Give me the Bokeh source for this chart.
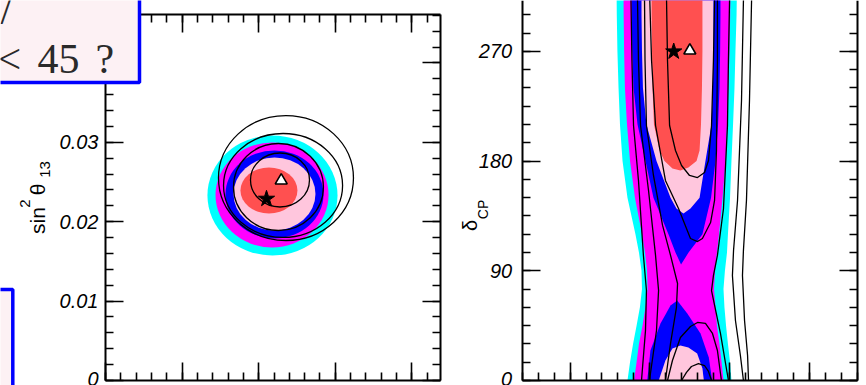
import numpy as np
from bokeh.plotting import figure
from bokeh.models import FixedTicker, LinearAxis, Range1d, BoxAnnotation, Label
from bokeh.embed import file_html
from bokeh.resources import INLINE

# ---------------- data: left panel (sin^2 theta13 vs theta23) ----------------
L_xticks = [35, 40, 45, 50, 55]
L_yticks = [0.0, 0.01, 0.02, 0.03, 0.04]
L_ylabels = ["0", "0.01", "0.02", "0.03", "0.04"]

# filled allowed regions, outer -> inner (centre, full width, full height)
L_fill_x = [45.90, 45.87, 46.03, 46.03, 45.67]
L_fill_y = [0.02330, 0.02336, 0.02343, 0.02349, 0.02393]
L_fill_w = [8.49, 7.38, 6.40, 5.35, 3.72]
L_fill_h = [0.01511, 0.01322, 0.01108, 0.00919, 0.00579]

# black contour loops
L_loop_x = [46.39, 46.29, 46.59, 46.78]
L_loop_y = [0.02525, 0.02437, 0.02456, 0.02550]
L_loop_w = [3.85, 5.87, 7.77, 8.81]
L_loop_h = [0.00680, 0.01096, 0.01310, 0.01574]

L_star = (45.51, 0.02288)
L_tri = (46.47, 0.02519)

# ---------------- data: right panel (delta_CP vs theta23) ----------------
R_xticks = [40, 45, 50, 55]
R_yticks = [0, 90, 180, 270, 360]

band_d = [330, 300, 270, 240, 210, 180, 150, 120, 105, 90, 75, 60, 45, 30, 15, 0]
cyan_l = [42.91, 42.93, 42.97, 43.04, 43.13, 43.29, 43.60, 44.10, 44.32, 44.48, 44.51, 44.38, 44.17, 43.95, 43.76, 43.60]
cyan_r = [50.47, 50.44, 50.37, 50.31, 50.22, 50.12, 50.03, 49.90, 49.84, 49.71, 49.62, 49.68, 49.78, 49.90, 50.03, 50.12]
mag_l = [43.35, 43.36, 43.39, 43.44, 43.57, 43.76, 44.07, 44.51, 44.70, 44.83, 44.86, 44.73, 44.54, 44.32, 44.17, 44.01]
mag_r = [50.06, 50.04, 50.00, 49.93, 49.84, 49.75, 49.56, 49.34, 49.21, 49.09, 49.03, 49.12, 49.21, 49.37, 49.50, 49.62]

blueU_d = [330, 300, 270, 240, 210, 180, 150, 120, 105]
blueU_l = [43.85, 43.87, 43.90, 43.98, 44.23, 44.73, 45.23, 46.17, 46.61]
blueU_r = [49.43, 49.43, 49.41, 49.37, 49.28, 49.12, 48.84, 48.30, 47.43]
blueU_tip = (46.96, 95.2)

pinkU_d = [330, 300, 270, 240, 210, 180, 150]
pinkU_l = [44.48, 44.48, 44.51, 44.57, 44.79, 45.42, 46.30]
pinkU_r = [48.99, 48.99, 48.99, 48.96, 48.87, 48.49, 48.12]
pinkU_bot_x = [46.67, 47.11, 47.55]
pinkU_bot_d = [141.1, 137.0, 141.1]

redU_x = [45.11, 45.11, 45.14, 45.17, 45.26, 45.61, 45.92, 46.42, 46.92, 47.42, 47.93, 48.12, 48.21, 48.27, 48.30, 48.30, 48.30]
redU_d = [330, 300, 270, 240, 210, 188.7, 180, 173.9, 172.3, 174.7, 180, 188.7, 210, 240, 270, 300, 330]

blueL_x = [44.84, 45.04, 45.67, 46.30, 46.72, 47.35, 48.18, 48.70, 48.91]
blueL_d = [0, 24.6, 46.8, 61.5, 65.6, 55.0, 38.6, 18.9, 0]
pinkL_x = [45.56, 45.98, 46.42, 46.92, 47.42, 47.97, 48.30, 48.39]
pinkL_d = [0, 16.4, 26.3, 28.7, 27.1, 22.2, 9.8, 0]

lines_x = [
    [43.82, 43.82, 43.88, 43.98, 44.29, 44.60, 44.79, 44.73, 44.48],
    [44.23, 44.23, 44.29, 44.42, 44.92, 45.36, 45.55, 45.42, 44.98],
    [44.67, 44.67, 44.70, 44.79, 45.23, 45.80, 46.30, 46.74, 46.67, 46.30, 45.98],
    [46.05, 46.05, 46.11, 46.24, 46.61, 46.99, 47.49, 47.99, 48.43, 48.68, 48.87, 48.99, 49.06, 49.06],
    [45.00, 45.00, 45.11, 45.36, 45.98, 46.80, 47.55, 47.99, 48.30, 48.81, 49.06, 49.18, 49.24, 49.24, 49.24],
    [50.00, 50.00, 49.93, 49.87, 49.62, 49.24, 48.99, 48.87, 49.43, 49.93],
    [50.87, 50.87, 50.75, 50.50, 50.25, 50.18, 50.37, 50.68, 50.87],
    [51.38, 51.38, 51.25, 51.06, 50.87, 50.81, 50.94, 51.13, 51.19],
    [46.11, 46.42, 46.92, 47.55, 47.99, 48.49, 48.93, 49.24, 49.49],
    [46.99, 47.30, 47.61, 48.05, 48.43, 48.68, 48.87],
]
lines_d = [
    [330, 311.8, 262.5, 209.2, 164.1, 102.6, 73.8, 41.0, 0],
    [330, 311.8, 262.5, 209.2, 155.9, 102.6, 73.8, 41.0, 0],
    [330, 311.8, 262.5, 209.2, 168.2, 127.2, 102.6, 79.6, 59.9, 30.4, 0],
    [330, 311.8, 262.5, 209.2, 188.7, 176.4, 168.2, 166.5, 170.6, 180.5, 209.2, 262.5, 311.8, 330],
    [330, 311.8, 262.5, 209.2, 164.1, 141.1, 116.5, 114.0, 116.5, 129.6, 147.7, 188.7, 262.5, 311.8, 330],
    [330, 311.8, 262.5, 209.2, 141.1, 102.6, 86.1, 73.8, 38.6, 0],
    [330, 311.8, 229.7, 147.7, 106.7, 86.1, 49.2, 20.5, 0],
    [330, 311.8, 229.7, 147.7, 106.7, 86.1, 49.2, 20.5, 0],
    [0, 16.4, 35.3, 44.3, 47.6, 46.8, 38.6, 24.6, 0],
    [0, 6.6, 11.5, 13.9, 12.3, 7.4, 0],
]

R_star = (46.50, 269.9)
R_tri = (47.51, 270.7)

# ---------------- style ----------------
C_CYAN, C_MAG, C_BLUE, C_PINK, C_RED = "#00ffff", "#ff00ff", "#0000ff", "#ffc6dd", "#ff5050"
fill_colors = [C_CYAN, C_MAG, C_BLUE, C_PINK, C_RED]
TICK_FONT = "Liberation Sans"
W, H = 866, 385

# ---------------- panel geometry (pixel placement of the two frames) ----------------
L_pxdeg, L_pxunit = 15.32, 7940.0
R_pxdeg, R_pxdeg_y = 15.95, 0.8204

def Lx(px): return 35 + (px - 105) / L_pxdeg
def Ly(py): return (380 - py) / L_pxunit
def Rx(px): return 37 + (px - 521.7) / R_pxdeg
def Ry(py): return (380 - py) * R_pxdeg_y

p = figure(width=W, height=H, x_range=Range1d(0, W), y_range=Range1d(H, 0),
           min_border=0, x_axis_location=None, y_axis_location=None, title=None,
           output_backend="svg", toolbar_location=None)
p.outline_line_color = None
p.background_fill_color = "white"
p.border_fill_color = "white"
p.grid.visible = False
p.extra_x_ranges = {"Lx": Range1d(Lx(0), Lx(W)), "Rx": Range1d(Rx(0), Rx(W))}
p.extra_y_ranges = {"Ly": Range1d(Ly(H), Ly(0)), "Ry": Range1d(Ry(H), Ry(0))}


def add_axis(side, xr, yr, loc, bounds, ticks, minor, labels=None, show=True, standoff=8):
    ax = LinearAxis(x_range_name=xr, y_range_name=yr, fixed_location=loc, bounds=bounds)
    ax.ticker = FixedTicker(ticks=ticks, minor_ticks=minor)
    ax.axis_line_width = 2
    ax.axis_line_color = "black"
    ax.major_tick_in = 18
    ax.major_tick_out = 0
    ax.minor_tick_in = 8
    ax.minor_tick_out = 0
    ax.major_tick_line_width = 1.6
    ax.minor_tick_line_width = 1.6
    ax.major_tick_line_color = "black"
    ax.minor_tick_line_color = "black"
    ax.major_label_standoff = standoff
    ax.major_label_text_font = TICK_FONT
    ax.major_label_text_font_style = "italic"
    ax.major_label_text_font_size = "20px"
    ax.major_label_text_color = "black"
    if show and labels is not None:
        ax.major_label_overrides = dict(zip(ticks, labels))
    elif not show:
        ax.major_label_overrides = {t: "" for t in ticks}
        ax.major_label_standoff = 0
    p.add_layout(ax, side)
    return ax

# left panel axes
LX0, LX1, LY0, LY1 = Lx(105), Lx(440), Ly(380), Ly(14)
lx_minor = [round(v, 3) for v in np.arange(35, LX1 + 0.01, 1.0)]
ly_minor = [round(v, 4) for v in np.arange(0, LY1 + 0.0001, 0.002)]
add_axis("left", "Lx", "Ly", LX0, (LY0, LY1), L_yticks, ly_minor, L_ylabels, True, 7)
add_axis("right", "Lx", "Ly", LX1, (LY0, LY1), L_yticks, ly_minor, None, False)
add_axis("above", "Lx", "Ly", LY1, (LX0, LX1), L_xticks, lx_minor, None, False)
add_axis("below", "Lx", "Ly", LY0, (LX0, LX1), L_xticks, lx_minor, None, False)

# right panel axes
RX0, RX1, RY0 = Rx(521.7), Rx(856.7), 0.0
rx_minor = [round(v, 3) for v in np.arange(37, RX1 + 0.01, 1.0)]
ry_minor = [float(v) for v in np.arange(0, 361, 15)]
add_axis("left", "Rx", "Ry", RX0, (0, 400), R_yticks, ry_minor, [str(t) for t in R_yticks], True, 10)
add_axis("right", "Rx", "Ry", RX1, (0, 400), R_yticks, ry_minor, None, False)
add_axis("below", "Rx", "Ry", RY0, (RX0, RX1), R_xticks, rx_minor, None, False)

# ---------------- left panel content ----------------
p.ellipse(x=L_fill_x, y=L_fill_y, width=L_fill_w, height=L_fill_h,
          fill_color=fill_colors, line_color=None, x_range_name="Lx", y_range_name="Ly")
p.ellipse(x=L_loop_x, y=L_loop_y, width=L_loop_w, height=L_loop_h,
          fill_color=None, line_color="black", line_width=1.3, x_range_name="Lx", y_range_name="Ly")
p.scatter([L_star[0]], [L_star[1]], marker="star", size=17, color="black",
          x_range_name="Lx", y_range_name="Ly")
p.scatter([L_tri[0]], [L_tri[1]], marker="triangle", size=12, fill_color="white",
          line_color="black", line_width=1.6, x_range_name="Lx", y_range_name="Ly")

# ---------------- right panel content ----------------
cyan_xs = cyan_l + cyan_r[::-1]
cyan_ys = band_d + band_d[::-1]
mag_xs = mag_l + mag_r[::-1]
mag_ys = band_d + band_d[::-1]
blueU_xs = blueU_l + [blueU_tip[0]] + blueU_r[::-1]
blueU_ys = blueU_d + [blueU_tip[1]] + blueU_d[::-1]
pinkU_xs = pinkU_l + pinkU_bot_x + pinkU_r[::-1]
pinkU_ys = pinkU_d + pinkU_bot_d + pinkU_d[::-1]

R = dict(x_range_name="Rx", y_range_name="Ry")
p.patch(cyan_xs, cyan_ys, fill_color=C_CYAN, line_color=None, **R)
p.patch(mag_xs, mag_ys, fill_color=C_MAG, line_color=None, **R)
p.patch(blueU_xs, blueU_ys, fill_color=C_BLUE, line_color=None, **R)
p.patch(blueL_x, blueL_d, fill_color=C_BLUE, line_color=None, **R)
p.patch(pinkU_xs, pinkU_ys, fill_color=C_PINK, line_color=None, **R)
p.patch(pinkL_x, pinkL_d, fill_color=C_PINK, line_color=None, **R)
p.patch(redU_x, redU_d, fill_color=C_RED, line_color=None, **R)
p.multi_line(lines_x, lines_d, line_color="black", line_width=1.3, **R)
p.scatter([R_star[0]], [R_star[1]], marker="star", size=17, color="black", **R)
p.scatter([R_tri[0]], [R_tri[1]], marker="triangle", size=12, fill_color="white",
          line_color="black", line_width=1.6, **R)

# ---------------- texts and the boxes of the neighbouring panel ----------------
def rot_label(txt, cx, cy, fs):
    p.add_layout(Label(x=cx, y=cy, text=txt, text_font="Liberation Sans", text_font_size=fs,
                       text_color="black", angle=np.pi / 2, text_baseline="middle",
                       text_align="center"))

for txt, cx, cy, fs in [("sin", 37, 220, "21px"), ("2", 24, 203, "15px"),
                        ("\u03b8", 37, 189, "21px"), ("13", 44, 169, "15px"),
                        ("\u03b4", 469, 225, "20px"), ("CP", 482, 209, "14px")]:
    rot_label(txt, cx, cy, fs)

p.add_layout(BoxAnnotation(left=-6, right=139, top=-6, bottom=82, fill_color="#fdf1f4",
                           fill_alpha=1, line_color="#0000ff", line_alpha=1, line_width=3.5,
                           level="overlay"))
p.add_layout(BoxAnnotation(left=-6, right=12.3, top=289, bottom=392, fill_color="#fdf1f4",
                           fill_alpha=1, line_color="#0000ff", line_alpha=1, line_width=3.5,
                           level="overlay"))
for txt, px, py in [("/", 0, 9), ("<", -3, 58), ("45", 37, 58), ("?", 95, 58)]:
    p.add_layout(Label(x=px, y=py, text=txt, text_font="Liberation Serif", text_font_size="42px",
                       text_color="#2a2a2a", text_baseline="alphabetic", text_align="left",
                       level="overlay"))

open("out.html", "w").write(file_html(p, INLINE))
